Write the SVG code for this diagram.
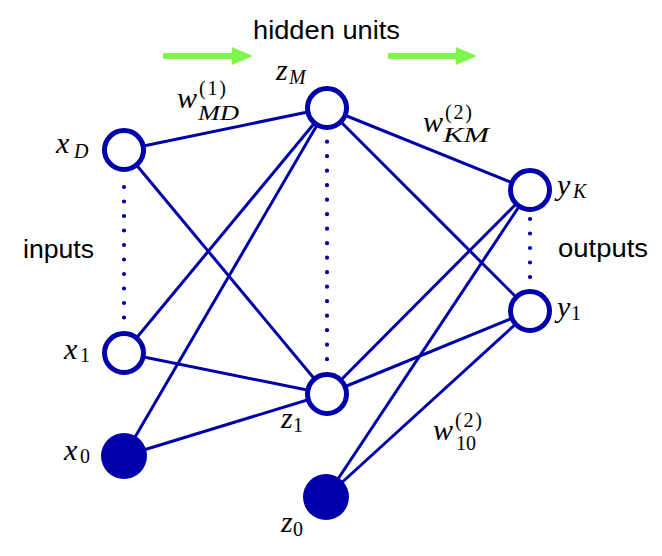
<svg xmlns="http://www.w3.org/2000/svg" width="662" height="556" viewBox="0 0 662 556">
<style>
.edge{stroke:#0000aa;stroke-width:3;fill:none}
.dots{stroke:#0000aa;stroke-width:4.2;stroke-linecap:round;stroke-dasharray:0 14.5;fill:none}
.unit{fill:#fff;stroke:#0000aa;stroke-width:5}
.bias{fill:#0000aa}
.lbl{font-family:"Liberation Sans","DejaVu Sans",sans-serif;font-size:26px;fill:#000}
.m{font-family:"Liberation Serif","DejaVu Serif",serif;font-style:italic;font-size:30px;fill:#000}
.s{font-size:20px}
.r{font-style:normal}
.arrow{fill:#80f64c}
</style>
<rect width="662" height="556" fill="#fff"/>
<g id="arrows">
<polygon class="arrow" points="163,53 232,53 232,47 253,56 232,65 232,59 163,59"/>
<polygon class="arrow" points="388,53 456,53 456,47 477,56 456,65 456,59 388,59"/>
</g>
<g id="connectors">
<line class="edge" x1="124" y1="150" x2="327" y2="108"/>
<line class="edge" x1="124" y1="150" x2="327" y2="394"/>
<line class="edge" x1="124" y1="353" x2="327" y2="108"/>
<line class="edge" x1="124" y1="353" x2="327" y2="394"/>
<line class="edge" x1="124" y1="456" x2="327" y2="108"/>
<line class="edge" x1="124" y1="456" x2="327" y2="394"/>
<line class="edge" x1="327" y1="108" x2="530" y2="190"/>
<line class="edge" x1="327" y1="108" x2="530" y2="311"/>
<line class="edge" x1="327" y1="394" x2="530" y2="190"/>
<line class="edge" x1="327" y1="394" x2="530" y2="311"/>
<line class="edge" x1="326" y1="497" x2="530" y2="190"/>
<line class="edge" x1="326" y1="497" x2="530" y2="311"/>
<line class="dots" x1="124" y1="187" x2="124" y2="317.6"/>
<line class="dots" x1="327" y1="141.7" x2="327" y2="359.3"/>
<line class="dots" x1="530" y1="219" x2="530" y2="277.1"/>
</g>
<g id="xD"><circle class="unit" cx="124" cy="150" r="19.5"/><text class="m" x="56" y="153">x<tspan class="s" x="74" y="158" textLength="17">D</tspan></text></g>
<g id="x1"><circle class="unit" cx="124" cy="353" r="19.5"/><text class="m" x="64" y="359">x<tspan class="s r" x="80" y="362">1</tspan></text></g>
<g id="x0"><circle class="bias" cx="124" cy="456" r="23"/><text class="m" x="64" y="460">x<tspan class="s r" x="80" y="463">0</tspan></text></g>
<g id="zM"><circle class="unit" cx="327" cy="108" r="19.5"/><text class="m" x="276" y="80">z<tspan class="s" x="289" y="84" textLength="21">M</tspan></text></g>
<g id="z1"><circle class="unit" cx="327" cy="394" r="19.5"/><text class="m" x="281" y="428">z<tspan class="s r" x="293" y="432">1</tspan></text></g>
<g id="z0"><circle class="bias" cx="326" cy="497" r="23"/><text class="m" x="281" y="532">z<tspan class="s r" x="293" y="536">0</tspan></text></g>
<g id="yK"><circle class="unit" cx="530" cy="190" r="19.5"/><text class="m" x="557" y="195">y<tspan class="s" x="573" y="198" textLength="16">K</tspan></text></g>
<g id="y1"><circle class="unit" cx="530" cy="311" r="19.5"/><text class="m" x="557" y="317">y<tspan class="s r" x="571" y="320">1</tspan></text></g>
<g id="labels">
<text class="lbl" x="253" y="39" textLength="147" lengthAdjust="spacingAndGlyphs">hidden units</text>
<text class="lbl" x="23" y="258" textLength="71" lengthAdjust="spacingAndGlyphs">inputs</text>
<text class="lbl" x="558" y="257" textLength="90" lengthAdjust="spacingAndGlyphs">outputs</text>
<text class="m" x="177" y="108">w</text>
<text class="m s r" x="199" y="95" textLength="27">(1)</text>
<text class="m s" x="198" y="120" textLength="41" lengthAdjust="spacingAndGlyphs">MD</text>
<text class="m" x="423" y="132">w</text>
<text class="m s r" x="445" y="119" textLength="27">(2)</text>
<text class="m s" x="443" y="142" textLength="46" lengthAdjust="spacingAndGlyphs">KM</text>
<text class="m" x="433" y="440">w</text>
<text class="m s r" x="455" y="427" textLength="27">(2)</text>
<text class="m s r" x="456" y="450">10</text>
</g>
</svg>
